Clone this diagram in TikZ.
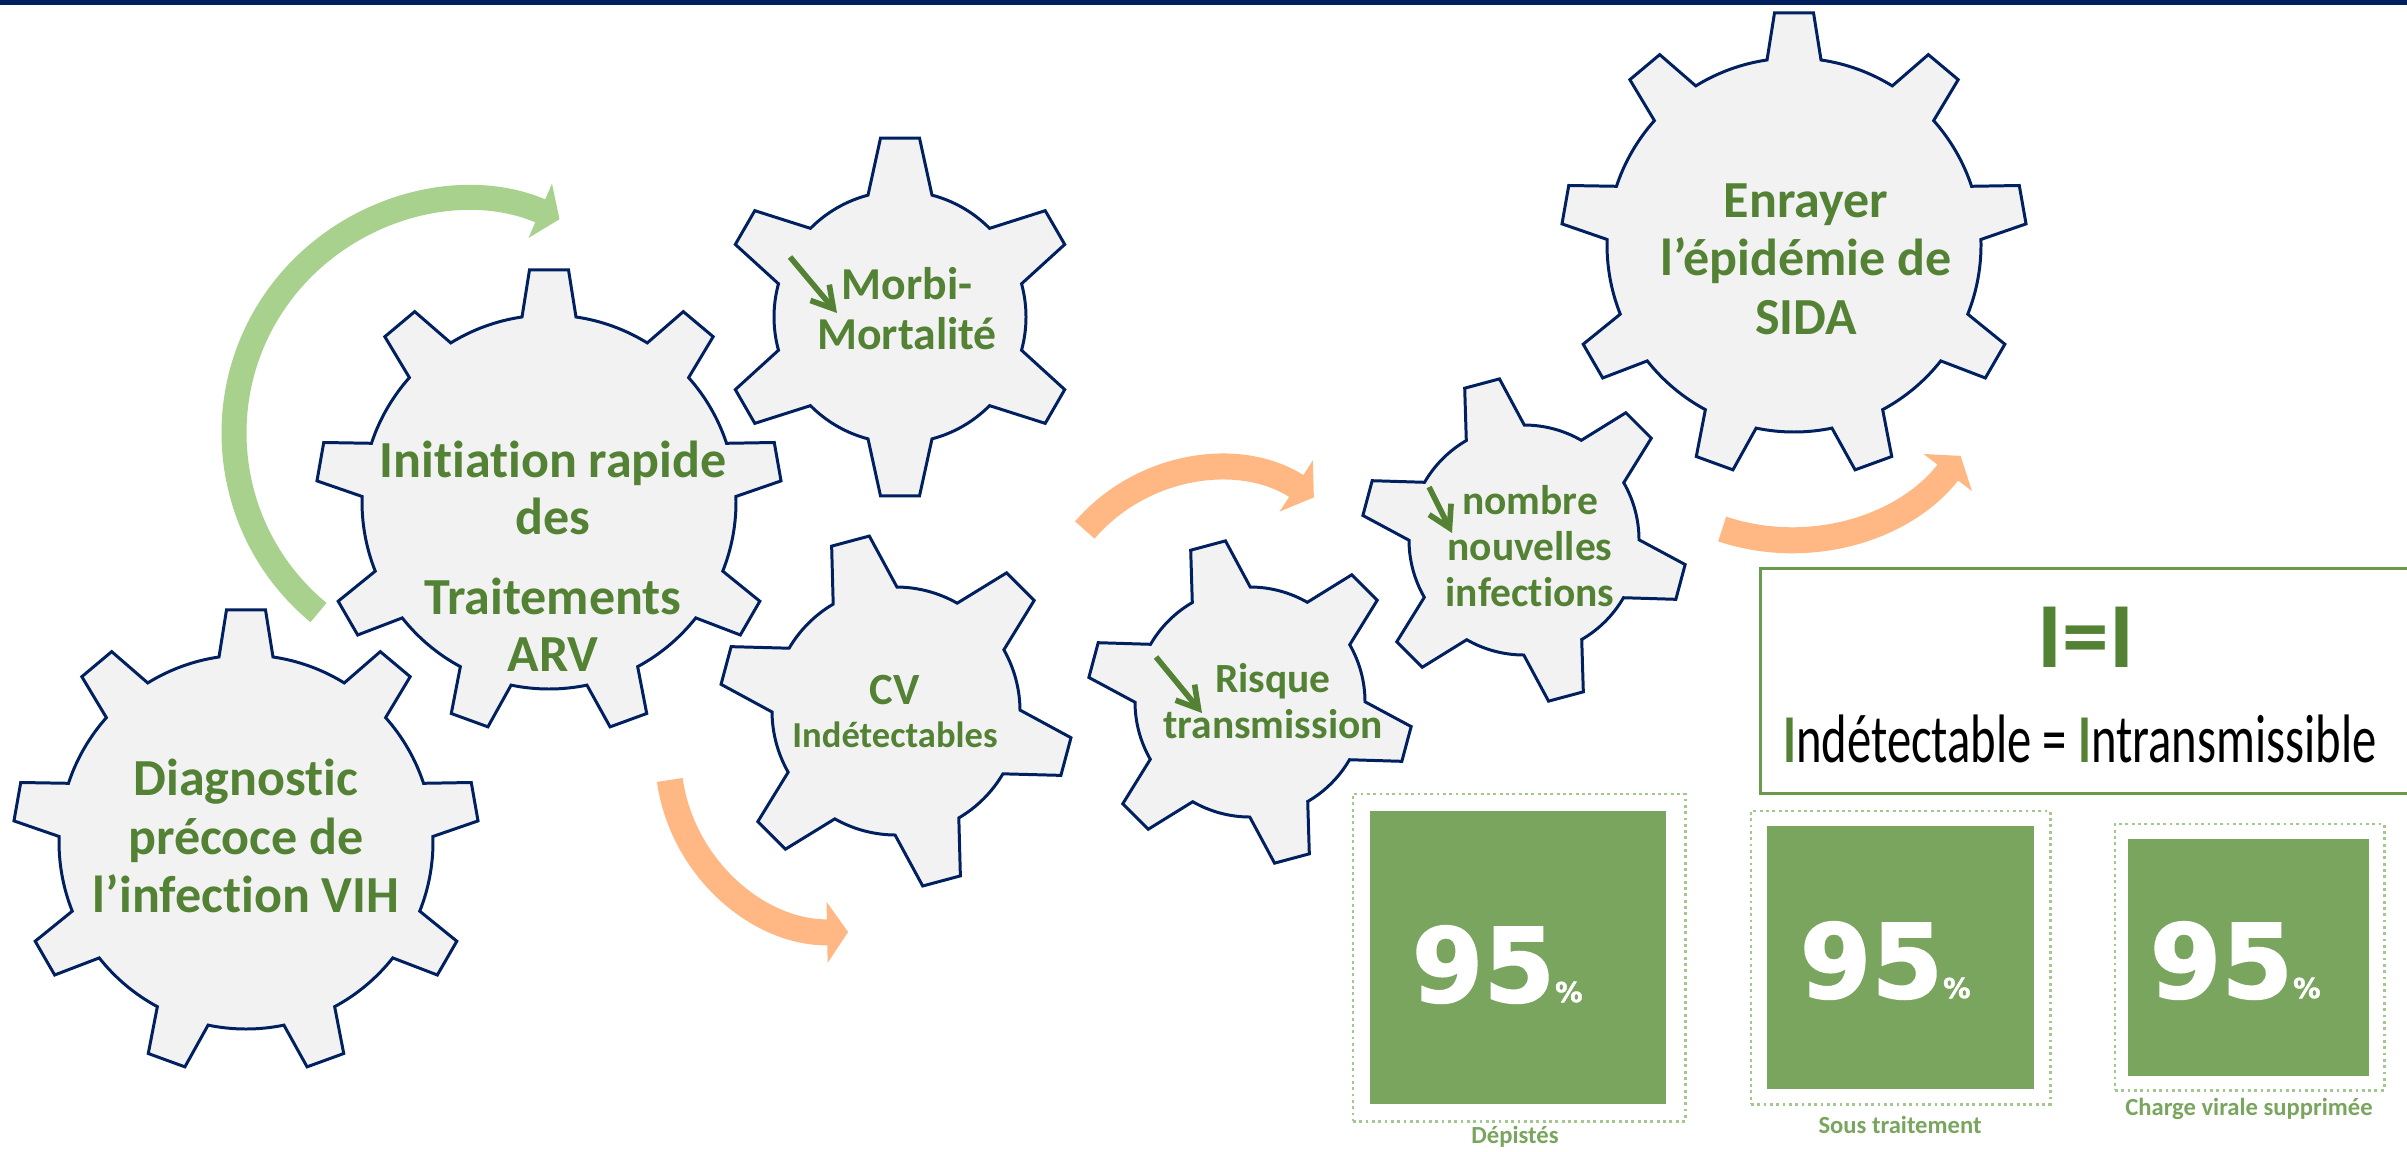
\documentclass[tikz,border=0pt]{standalone}
\usepackage{fontspec}
\setmainfont{Carlito}[Ligatures=NoCommon]
\newfontfamily\digitfont{DejaVu Sans}[BoldFeatures={FakeBold=1.5}]
\usetikzlibrary{arrows.meta}

\definecolor{navy}{HTML}{002060}
\definecolor{gearfill}{HTML}{F2F2F2}
\definecolor{txtgreen}{HTML}{548235}
\definecolor{boxgreen}{HTML}{7AA55E}
\definecolor{dotgreen}{HTML}{A3C78F}
\definecolor{framegreen}{HTML}{6A9A4C}
\definecolor{lightgreen}{HTML}{A9D18E}
\definecolor{lightorange}{HTML}{FFB784}

% centre x, centre y, inner radius, outer radius, teeth, first tooth angle, half tip, half base
\newcommand{\gearpath}[8]{%
    \pgfmathsetmacro{\gtip}{asin(#7/#4)}%
    \pgfmathsetmacro{\gbase}{asin(#8/#3)}%
    \pgfmathsetmacro{\gstep}{360/#5}%
    \pgfmathtruncatemacro{\glast}{#5-1}%
    \draw[gear] ([shift={(#1,#2)}]#6-\gbase:#3)
        \foreach \k [evaluate=\k as \ta using #6+\k*\gstep,
                     evaluate=\k as \gsa using #6+\k*\gstep+\gbase,
                     evaluate=\k as \gea using #6+(\k+1)*\gstep-\gbase] in {0,...,\glast} {
            -- ([shift={(#1,#2)}]\ta-\gbase:#3) -- ([shift={(#1,#2)}]\ta-\gtip:#4)
            -- ([shift={(#1,#2)}]\ta+\gtip:#4) -- ([shift={(#1,#2)}]\ta+\gbase:#3)
            arc[start angle=\gsa, end angle=\gea, radius=#3]
        } -- cycle;
}

\tikzset{
    gear/.style={fill=gearfill, draw=navy, line width=0.85pt, line join=miter},
    bigtext/.style={text=txtgreen, align=center, inner sep=0pt, font=\bfseries\fontsize{14.8}{16.6}\selectfont},
    midtext/.style={text=txtgreen, align=center, inner sep=0pt, font=\bfseries\fontsize{13}{14.2}\selectfont},
    smalltext/.style={text=txtgreen, align=center, inner sep=0pt, font=\bfseries\fontsize{11.8}{12.9}\selectfont},
    fall/.style={draw=txtgreen, line width=1.6pt, -{Straight Barb[length=6pt, width=7pt]}},
    greenarc/.style={draw=lightgreen, line width=0.25cm, -{Triangle[length=0.21cm, width=0.58cm]}},
    orangearc/.style={draw=lightorange, line width=0.26cm, -{Triangle[length=0.21cm, width=0.6cm]}},
    dotframe/.style={draw=dotgreen, densely dotted, line width=0.8pt, inner sep=0pt},
    greenbox/.style={fill=boxgreen, inner sep=0pt},
    pct/.style={text=white, anchor=base west, inner sep=0pt, font=\digitfont\bfseries\fontsize{29.3}{32}\selectfont},
    boxlabel/.style={text=boxgreen, anchor=base, inner sep=0pt, font=\bfseries\fontsize{7}{8}\selectfont},
}

\begin{document}
\begin{tikzpicture}[x=0.01cm, y=-0.01cm]
    \useasboundingbox (0, 0) rectangle (2407, 1151);
    \fill[white] (0, 0) rectangle (2407, 1151);
    \fill[navy] (0, 0) rectangle (2407, 5);

    \coordinate (gc)  at (467, 433);
    \coordinate (oc1) at (845, 755);
    \coordinate (oc2) at (1218, 645);
    \coordinate (oc3) at (1790, 325);
    \draw[greenarc]  (gc)  ++(129.6:233) arc[start angle=129.6, end angle=293.4, radius=233];
    \draw[orangearc] (oc1) ++(171.9:177) arc[start angle=171.9, end angle=89, radius=177];
    \draw[orangearc] (oc2) ++(220.8:176) arc[start angle=220.8, end angle=303, radius=176];
    \draw[orangearc] (oc3) ++(108.4:215) arc[start angle=108.4, end angle=37.5, radius=215];

    \gearpath{246}{842}{187}{233}{9}{-90}{19.5}{27}
    \gearpath{549}{502}{187}{233}{9}{-90}{19.5}{27}
    \gearpath{1794}{245}{187}{233}{9}{-90}{19.5}{27}
    \gearpath{900}{317}{126}{180}{6}{-90}{19.5}{32}
    \gearpath{896}{711}{124}{177}{6}{-105}{19.5}{33}
    \gearpath{1250}{702}{115}{163}{6}{-105}{18}{30}
    \gearpath{1524}{540}{115}{163}{6}{-105}{18}{30}

    \node[bigtext] at (246, 836)   (diag)   {Diagnostic\\précoce de\\l’infection VIH};
    \node[bigtext, font=\bfseries\fontsize{14.8}{16.2}\selectfont] at (553, 556) (arv) {Initiation rapide\\des\\[6.6pt]Traitements\\ARV};
    \node[bigtext] at (1806, 259)  (sida)   {Enrayer\\l’épidémie de\\SIDA};
    \node[midtext] at (907, 309)   (morbi)  {Morbi-\\Mortalité};
    \node[text=txtgreen, anchor=base, inner sep=0pt, font=\bfseries\fontsize{12.7}{14}\selectfont] at (895, 704) (cv) {CV};
    \node[text=txtgreen, anchor=base, inner sep=0pt, font=\bfseries\fontsize{10.4}{12}\selectfont] at (895, 747) (cvind) {Indétectables};
    \node[smalltext] at (1273, 701) (risque) {Risque\\transmission};
    \node[smalltext, font=\bfseries\fontsize{11.8}{13}\selectfont] at (1530, 546) (nombre) {nombre\\nouvelles\\infections};

    \coordinate (m1) at (790, 257);   \coordinate (m2) at (837, 313);
    \coordinate (r1) at (1156, 657);  \coordinate (r2) at (1202, 713);
    \coordinate (n1) at (1429, 487);  \coordinate (n2) at (1452, 533);
    \draw[fall] (m1) -- (m2);
    \draw[fall] (r1) -- (r2);
    \draw[fall] (n1) -- (n2);

    \node[draw=framegreen, line width=0.85pt, anchor=north west, minimum width=6.7cm, minimum height=2.25cm, inner sep=0pt] at (1759, 567) (iframe) {};
    \node[anchor=base, inner sep=0pt, text=txtgreen, font=\bfseries\fontsize{26.5}{30}\selectfont] at (2086, 667) (ii) {I=I};
    \node[anchor=base, inner sep=0pt] at (2080, 762) (ieq) {\scalebox{0.71}[1]{\fontsize{19.5}{22}\selectfont\textcolor{txtgreen}{\bfseries I}ndétectable = \textcolor{txtgreen}{\bfseries I}ntransmissible}};

    \node[dotframe, minimum width=3.32cm, minimum height=3.27cm] at (1519, 957.5) (f1) {};
    \node[greenbox, minimum width=2.96cm, minimum height=2.93cm] at (1518, 957.5) (b1) {};
    \node[pct] at (1411, 1002) (p1) {95{\fontsize{7.8}{9}\selectfont\%}};
    \node[boxlabel] at (1515, 1143) (l1) {Dépistés};

    \node[dotframe, minimum width=2.99cm, minimum height=2.93cm] at (1900.5, 957.5) (f2) {};
    \node[greenbox, minimum width=2.67cm, minimum height=2.63cm] at (1900.5, 957.5) (b2) {};
    \node[pct] at (1799, 998) (p2) {95{\fontsize{7.8}{9}\selectfont\%}};
    \node[boxlabel] at (1900, 1133) (l2) {Sous traitement};

    \node[dotframe, minimum width=2.69cm, minimum height=2.66cm] at (2249.5, 957) (f3) {};
    \node[greenbox, minimum width=2.41cm, minimum height=2.37cm] at (2248.5, 957.5) (b3) {};
    \node[pct] at (2149, 998) (p3) {95{\fontsize{7.8}{9}\selectfont\%}};
    \node[boxlabel] at (2249, 1115) (l3) {Charge virale supprimée};
\end{tikzpicture}
\end{document}
